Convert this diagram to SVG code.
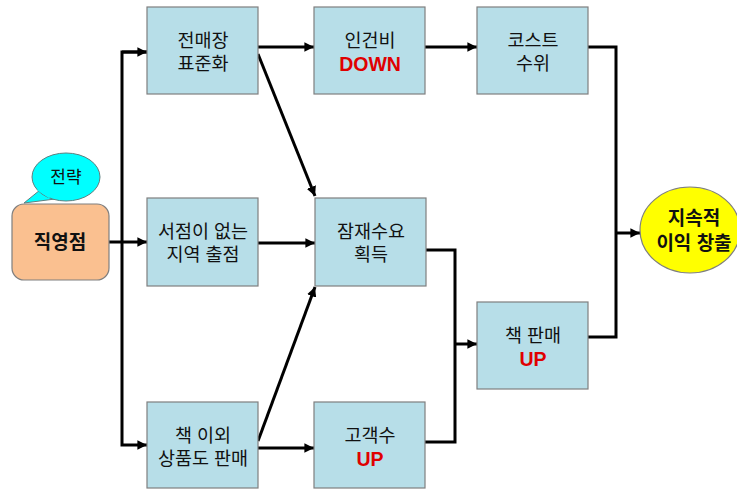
<svg xmlns="http://www.w3.org/2000/svg" width="737" height="491" viewBox="0 0 737 491">
<defs>
<marker id="ah" viewBox="0 0 10 10" refX="10" refY="5" markerWidth="3.2" markerHeight="3.2" orient="auto" markerUnits="strokeWidth">
<path d="M0,0 L10,5 L0,10 z" fill="#000"/>
</marker>
<style>
.box{fill:#B7DEE8;stroke:#7F7F7F;stroke-width:1.2}
.t{font-family:"Liberation Sans","Noto Sans CJK KR",sans-serif;font-size:18.5px;fill:#111;text-anchor:middle}
.b{font-weight:bold}
.red{fill:#E00000;font-weight:bold;font-size:19.5px}
.c{fill:none;stroke:#000;stroke-width:3}
</style>
</defs>
<rect width="737" height="491" fill="#fff"/>
<g id="connectors">
<polyline class="c" points="147,52 122,52 122,445 147,445" marker-end="url(#ah)"/>
<line class="c" x1="122" y1="52" x2="147" y2="52" marker-end="url(#ah)"/>
<line class="c" x1="109" y1="242" x2="147" y2="242" marker-end="url(#ah)"/>
<line class="c" x1="258" y1="47" x2="314" y2="47" marker-end="url(#ah)"/>
<line class="c" x1="425" y1="47" x2="477" y2="47" marker-end="url(#ah)"/>
<line class="c" x1="258" y1="54" x2="315" y2="196" marker-end="url(#ah)"/>
<line class="c" x1="258" y1="243" x2="315" y2="243" marker-end="url(#ah)"/>
<line class="c" x1="258" y1="441" x2="315" y2="287" marker-end="url(#ah)"/>
<line class="c" x1="258" y1="448" x2="314" y2="448" marker-end="url(#ah)"/>
<polyline class="c" points="426,250 455,250 455,442 425,442"/>
<line class="c" x1="455" y1="344" x2="477" y2="344" marker-end="url(#ah)"/>
<polyline class="c" points="588,47 616,47 616,337 588,337"/>
<line class="c" x1="616" y1="233" x2="640" y2="233" marker-end="url(#ah)"/>
</g>
<g id="n_bubble">
<path d="M40,190 L24,203 L55,199 Z" fill="#00FFFF" stroke="#5F7F7F" stroke-width="1"/>
<ellipse cx="66" cy="177" rx="34" ry="24" fill="#00FFFF" stroke="#5F7F7F" stroke-width="1"/>
<path d="M38,189 L50,197" stroke="#00FFFF" stroke-width="3"/>
<text class="t" x="66" y="183" style="font-size:17px">전략</text>
</g>
<g id="n_direct">
<rect x="12" y="204" width="97" height="76" rx="12" ry="12" fill="#FAC090" stroke="#7F7F7F" stroke-width="1.2"/>
<text class="t b" x="60" y="249" style="font-size:19px">직영점</text>
</g>
<g id="n_std">
<rect class="box" x="147" y="7" width="111" height="87"/>
<text class="t" x="203" y="47">전매장</text>
<text class="t" x="203" y="70">표준화</text>
</g>
<g id="n_labor">
<rect class="box" x="314" y="7" width="111" height="87"/>
<text class="t" x="370" y="47">인건비</text>
<text class="t red" x="370" y="71">DOWN</text>
</g>
<g id="n_cost">
<rect class="box" x="477" y="7" width="111" height="87"/>
<text class="t" x="533" y="47">코스트</text>
<text class="t" x="533" y="70">수위</text>
</g>
<g id="n_region">
<rect class="box" x="147" y="198" width="111" height="88"/>
<text class="t" x="203" y="238">서점이 없는</text>
<text class="t" x="203" y="261">지역 출점</text>
</g>
<g id="n_demand">
<rect class="box" x="315" y="198" width="111" height="88"/>
<text class="t" x="371" y="238">잠재수요</text>
<text class="t" x="371" y="261">획득</text>
</g>
<g id="n_goods">
<rect class="box" x="147" y="402" width="111" height="86"/>
<text class="t" x="203" y="442">책 이외</text>
<text class="t" x="203" y="465">상품도 판매</text>
</g>
<g id="n_customers">
<rect class="box" x="314" y="402" width="111" height="86"/>
<text class="t" x="370" y="442">고객수</text>
<text class="t red" x="370" y="466">UP</text>
</g>
<g id="n_sales">
<rect class="box" x="477" y="302" width="111" height="87"/>
<text class="t" x="533" y="342">책 판매</text>
<text class="t red" x="533" y="366">UP</text>
</g>
<g id="n_profit">
<ellipse cx="690" cy="230" rx="50" ry="43" fill="#FFFF00" stroke="#7F7F7F" stroke-width="1.2"/>
<text class="t b" x="694" y="225" style="font-size:19px">지속적</text>
<text class="t b" x="694" y="250" style="font-size:19px">이익 창출</text>
</g>
</svg>
